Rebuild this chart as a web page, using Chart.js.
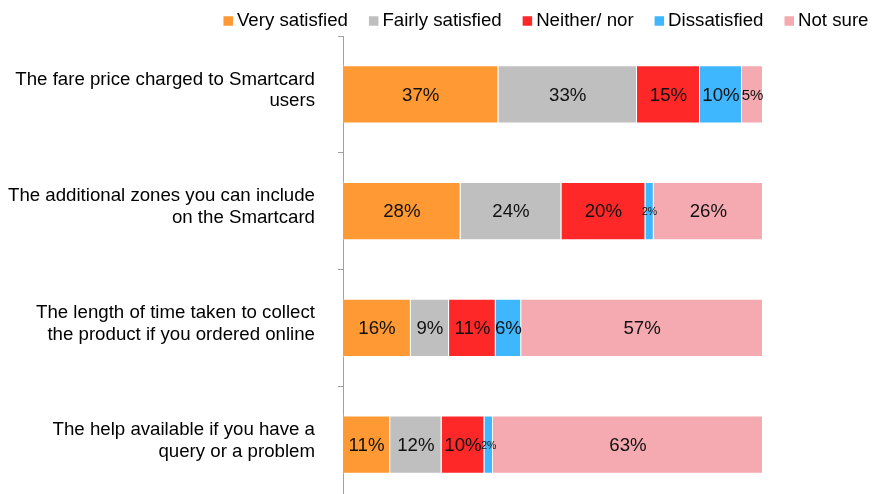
<!DOCTYPE html>
<html>
<head>
<meta charset="utf-8">
<script src="https://cdn.jsdelivr.net/npm/chart.js@4"></script>
<style>
  html, body { margin: 0; padding: 0; background: #fff; overflow: hidden; }
  #wrap { width: 872px; height: 494px; overflow: hidden; }
  #inner { position: relative; width: 872px; height: 503px; }
</style>
</head>
<body>
<div id="wrap"><div id="inner"><canvas id="c"></canvas></div></div>
<script>
const categories = [
  ["The fare price charged to Smartcard", "users"],
  ["The additional zones you can include", "on the Smartcard"],
  ["The length of time taken to collect", "the product if you ordered online"],
  ["The help available if you have a", "query or a problem"]
];
const seriesNames = ["Very satisfied", "Fairly satisfied", "Neither/ nor", "Dissatisfied", "Not sure"];
const verySatisfied   = [37, 28, 16, 11];
const fairlySatisfied = [33, 24, 9, 12];
const neitherNor      = [15, 20, 11, 10];
const dissatisfied    = [10, 2, 6, 2];
const notSure         = [5, 26, 57, 63];
const seriesColors = ["#FF9933", "#BFBFBF", "#FF2828", "#3FB7FF", "#F4AAB0"];

const seriesValues = [verySatisfied, fairlySatisfied, neitherNor, dissatisfied, notSure];
const rowTotals = categories.map((_, i) => seriesValues.reduce((s, arr) => s + arr[i], 0));

const FONT = "'Liberation Sans', Arial, sans-serif";

const datasets = seriesValues.map((arr, k) => ({
  label: seriesNames[k],
  data: arr.map((v, i) => v / rowTotals[i] * 100),
  raw: arr,
  backgroundColor: seriesColors[k],
  borderColor: "rgba(255,255,255,0.55)",
  borderWidth: 1,
  categoryPercentage: 1.0,
  barPercentage: 0.5
}));

const valueLabels = {
  id: "valueLabels",
  afterDatasetsDraw(chart) {
    const ctx = chart.ctx;
    ctx.save();
    ctx.fillStyle = "#111";
    ctx.textAlign = "center";
    ctx.textBaseline = "middle";
    chart.data.datasets.forEach((ds, di) => {
      const meta = chart.getDatasetMeta(di);
      meta.data.forEach((el, i) => {
        const p = el.getProps(["x", "base", "y"], true);
        const w = Math.abs(p.x - p.base);
        let fs = 18.67;
        if (w < 15) fs = 10.5; else if (w < 24) fs = 15;
        ctx.font = fs + "px " + FONT;
        ctx.fillText(ds.raw[i] + "%", (p.x + p.base) / 2, p.y + 1);
      });
    });
    ctx.restore();
  }
};

const customLegend = {
  id: "customLegend",
  afterDraw(chart) {
    const ctx = chart.ctx;
    ctx.save();
    ctx.font = "18.67px " + FONT;
    ctx.textBaseline = "middle";
    ctx.textAlign = "left";
    const box = 9.5, gap = 4, itemGap = 21, yc = 21;
    let x = 868.5;
    const items = seriesNames.map((n, k) => ({ n, k, tw: ctx.measureText(n).width }));
    for (let j = items.length - 1; j >= 0; j--) {
      const it = items[j];
      x -= it.tw;
      ctx.fillStyle = "#000";
      ctx.fillText(it.n, x, yc);
      x -= gap + box;
      ctx.fillStyle = seriesColors[it.k];
      ctx.fillRect(x, yc - box / 2, box, box);
      x -= itemGap;
    }
    ctx.restore();
  }
};

new Chart(document.getElementById("c"), {
  type: "bar",
  data: { labels: categories, datasets },
  options: {
    indexAxis: "y",
    responsive: true,
    maintainAspectRatio: false,
    animation: false,
    layout: { padding: { top: 36, right: 109, bottom: 0, left: 0 } },
    plugins: { legend: { display: false }, tooltip: { enabled: false } },
    scales: {
      x: { stacked: true, display: false, min: 0, max: 100 },
      y: {
        stacked: true,
        afterFit(scale) {
          scale.width = 343;
          scale.paddingTop = 0;
          scale.paddingBottom = 0;
        },
        grid: { display: true, drawOnChartArea: false, drawTicks: true, tickLength: 5, color: "#A0A0A0", offset: true },
        border: { display: true, color: "#A0A0A0" },
        ticks: { color: "#000", padding: 23, labelOffset: -4, font: { family: FONT, size: 18.67, lineHeight: 1.16 } }
      }
    }
  },
  plugins: [valueLabels, customLegend]
});
</script>
</body>
</html>
